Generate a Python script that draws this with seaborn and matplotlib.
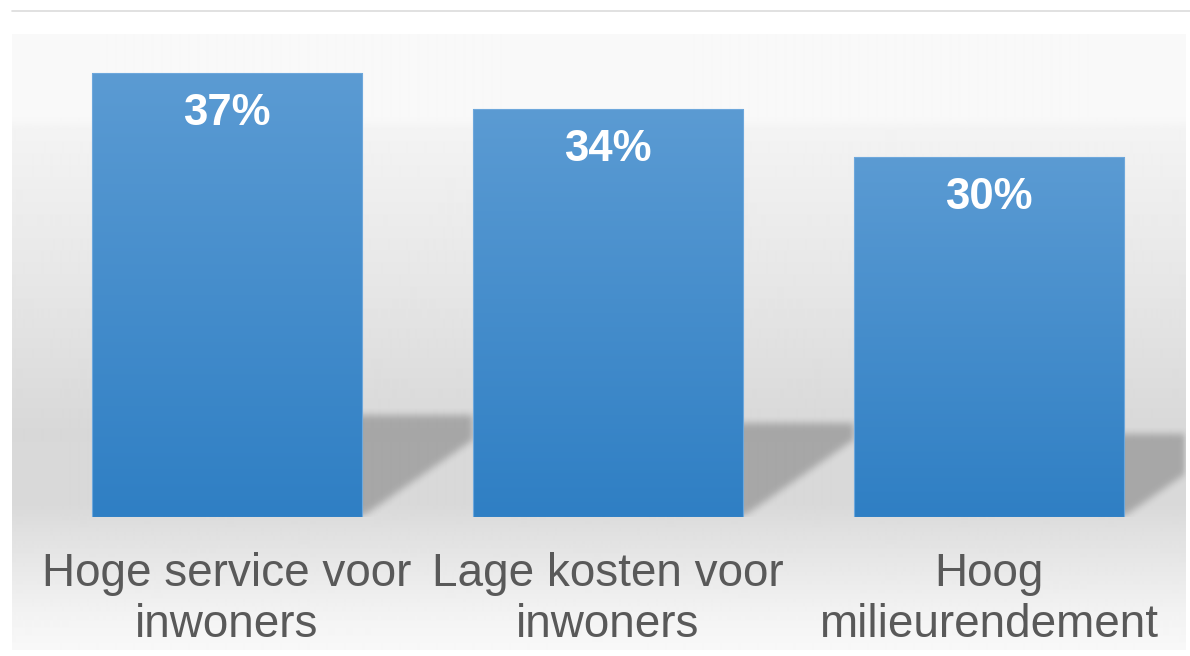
import numpy as np
import matplotlib.pyplot as plt
import seaborn as sns
from matplotlib.path import Path
from matplotlib.colors import LinearSegmentedColormap
from matplotlib.lines import Line2D

# data
categories = ["Hoge service voor\ninwoners", "Lage kosten voor\ninwoners", "Hoog\nmilieurendement"]
shares = [37, 34, 30]

sns.set_theme(style="white")
plt.rcParams["font.family"] = ["Liberation Sans", "DejaVu Sans"]

W, H = 1190, 656
fig = plt.figure(figsize=(W / 100, H / 100), dpi=100)
fig.patch.set_facecolor("white")

# panel geometry in pixels
px0, px1, py0, py1 = 12, 1186, 34, 650
base = 517
ppu = 12.0          # pixels per percent
step = 381.0        # pixels between bar centres
first = 227.0       # centre of first bar

# gray gradient background panel
bg = fig.add_axes([px0 / W, 1 - py1 / H, (px1 - px0) / W, (py1 - py0) / H])
stops_y = [34, 120, 130, 300, 430, 505, 535, 580, 620, 650]
stops_g = [249, 248, 243, 229, 216, 217, 225, 235, 244, 248]
yy = np.arange(py0, py1)
g = np.interp(yy, stops_y, stops_g) / 255
bg.imshow(np.repeat(g[:, None], 2, axis=1), cmap="gray", vmin=0, vmax=1,
          aspect="auto", extent=[0, 1, 0, 1], interpolation="bilinear")
bg.axis("off")

# main axes
ax = fig.add_axes([px0 / W, 1 - base / H, (px1 - px0) / W, (base - py0) / H])
ax.set_facecolor("none")
sns.barplot(x=categories, y=shares, width=0.71, color="#4a8fd0", ax=ax)

xlim = (-(first - px0) / step, (px1 - first) / step)
ylim = (0, (base - py0) / ppu)

# soft shadows behind bars
nx, ny = int(px1 - px0), int(base - py0)
gx = np.linspace(xlim[0], xlim[1], nx)
gy = np.linspace(ylim[0], ylim[1], ny)
XX, YY = np.meshgrid(gx, gy)
pts = np.column_stack([XX.ravel(), YY.ravel()])
mask = np.zeros(XX.shape)
for p in ax.patches:
    xr = p.get_x() + p.get_width()
    h = p.get_height()
    poly = Path([(xr - 0.05, 0), (xr - 0.05, 0.23 * h), (xr + 0.29, 0.23 * h),
                 (xr + 0.29, 6.4), (xr, 0)])
    mask = np.maximum(mask, poly.contains_points(pts).reshape(XX.shape).astype(float))


def box_blur(a, k):
    kern = np.ones(k) / k
    a = np.apply_along_axis(lambda r: np.convolve(r, kern, mode="same"), 1, a)
    a = np.apply_along_axis(lambda c: np.convolve(c, kern, mode="same"), 0, a)
    return a


for _ in range(3):
    mask = box_blur(mask, 7)
shadow = np.zeros(mask.shape + (4,))
shadow[..., 3] = 0.23 * mask
ax.imshow(shadow, extent=[xlim[0], xlim[1], ylim[0], ylim[1]], origin="lower",
          aspect="auto", zorder=0.8, interpolation="bilinear")

# gradient fill on bars + value labels
cmap = LinearSegmentedColormap.from_list("bar", ["#5b9bd3", "#2f7fc4"])
grad = np.linspace(0, 1, 256)[:, None]
for p, v in zip(ax.patches, shares):
    x0, w, h = p.get_x(), p.get_width(), p.get_height()
    im = ax.imshow(grad, cmap=cmap, extent=[x0, x0 + w, 0, h], origin="upper",
                   aspect="auto", zorder=2)
    im.set_clip_path(p)
    p.set_facecolor("none")
    p.set_edgecolor("#6ea8dc")
    p.set_linewidth(0.8)
    p.set_zorder(3)
    ax.text(x0 + w / 2, h - 3.4, f"{v}%", ha="center", va="center",
            color="white", fontsize=31.5, fontweight="bold", zorder=4)

ax.set_xlim(*xlim)
ax.set_ylim(*ylim)
ax.set_xlabel("")
ax.set_ylabel("")
ax.set_yticks([])
sns.despine(ax=ax, left=True, bottom=True)
ax.tick_params(axis="x", length=0, pad=25, labelsize=33, labelcolor="#595959")
for t in ax.get_xticklabels():
    t.set_linespacing(1.2)

# thin line at the top
fig.add_artist(Line2D([px0 / W, 1], [1 - 11 / H] * 2, color="#dcdcdc", lw=1.2))

fig.savefig("out.png", dpi=100)
